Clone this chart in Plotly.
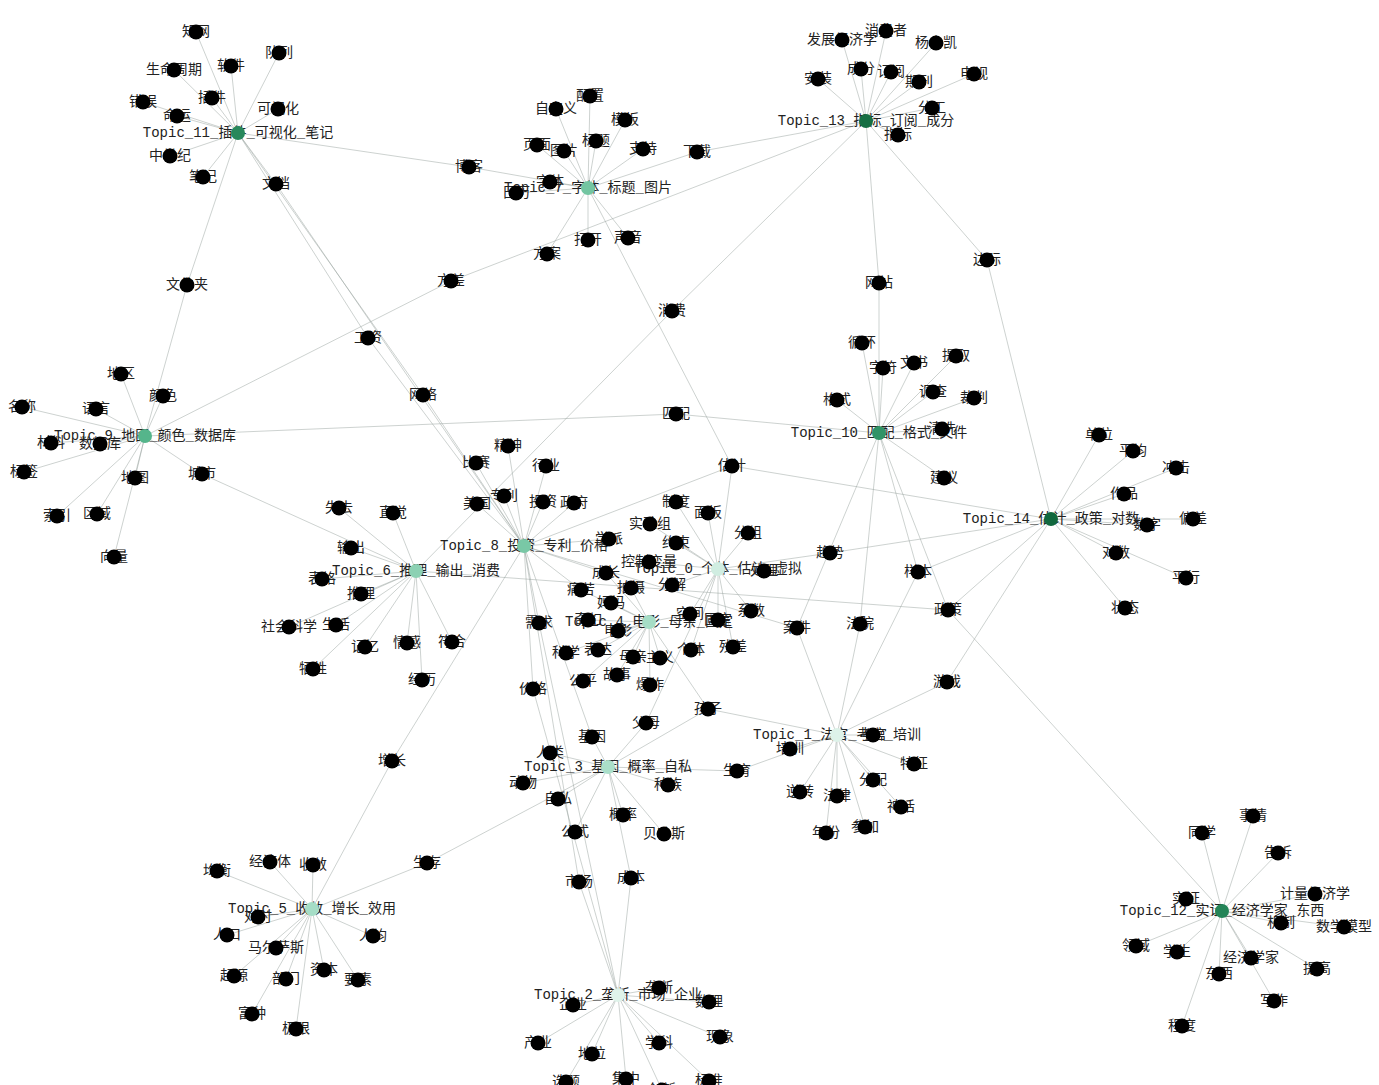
import plotly.graph_objects as go

# ---------------- data ----------------
topic_names = [
    "Topic_0_个体_估计_虚拟", "Topic_1_法官_考官_培训", "Topic_2_垄断_市场_企业",
    "Topic_3_基因_概率_自私", "Topic_4_电影_母亲_固定", "Topic_5_收敛_增长_效用",
    "Topic_6_推理_输出_消费", "Topic_7_字体_标题_图片", "Topic_8_投资_专利_价格",
    "Topic_9_地图_颜色_数据库", "Topic_10_匹配_格式_文件", "Topic_11_插件_可视化_笔记",
    "Topic_12_实证_经济学家_东西", "Topic_13_指标_订阅_成分", "Topic_14_估计_政策_对数",
]
topic_x = [718, 837, 618, 608, 649, 312, 416, 588, 524, 145, 879, 238, 1222, 866, 1051]
topic_y = [569, 735, 995, 767, 622, 909, 571, 188, 546, 436, 433, 133, 911, 121, 519]
topic_weight = [0.14, 0.07, 0.06, 0.34, 0.36, 0.36, 0.44, 0.52, 0.50, 0.62, 0.78, 0.84, 0.86, 0.97, 1.0]

word_names = [
    # Topic_11
    "知网", "队列", "软件", "生命周期", "插件", "错误", "可视化", "命运", "中世纪", "笔记",
    "文档", "文件夹", "博客", "网络", "工资",
    # Topic_7
    "配置", "自定义", "模板", "页面", "图片", "标题", "支持", "下载", "字体", "日历",
    "打开", "声音", "方案", "估计", "方差",
    # Topic_13
    "发展经济学", "消费者", "杨小凯", "成分", "订阅", "期刊", "电视", "安装", "分工", "指标",
    "网站", "边际", "消费",
    # Topic_9
    "地区", "颜色", "名称", "语言", "材料", "数据库", "标签", "地图", "索引", "区域", "向量",
    "城市", "匹配",
    # Topic_10
    "循环", "字符", "文书", "提取", "格式", "调查", "裁判", "清洗", "建议",
    "法院", "样本", "案件", "政策",
    # Topic_14
    "单位", "平均", "冲击", "作品", "数字", "偏差", "对数", "平行", "状态", "趋势", "游戏",
    # Topic_8
    "精神", "比赛", "行业", "专利", "美国", "投资", "政府", "学派", "价格", "需求", "增长",
    "基因", "市场",
    # Topic_0
    "制度", "面板", "实验组", "分组", "约束", "控制变量", "处理", "分解", "固定", "系数",
    "个体", "残差", "空间", "父母",
    # Topic_4
    "成长", "痛苦", "拍摄", "妈妈", "奇幻", "电影", "科学", "表达", "母亲", "主义",
    "公平", "故事", "爆炸", "孩子",
    # Topic_6
    "失去", "直觉", "输出", "表格", "推理", "社会科学", "生活", "记忆", "情感", "符合",
    "牺牲", "经历",
    # Topic_1
    "培训", "考官", "特征", "分配", "逆转", "法律", "神话", "年份", "参加", "生育",
    # Topic_3
    "人类", "动物", "种族", "自私", "概率", "贝叶斯", "公式", "成本", "生存",
    # Topic_5
    "经济体", "收敛", "均衡", "对时", "人口", "人均", "马尔萨斯", "起源", "部门", "资本",
    "要素", "富种", "极限",
    # Topic_2
    "垄断", "企业", "数理", "产业", "地位", "学科", "现象", "选题", "集中", "创新", "标准",
    # Topic_12
    "事情", "同学", "告诉", "计量经济学", "实证", "机制", "数学模型", "领域", "学生",
    "经济学家", "东西", "提高", "写作", "程度",
]
word_x = [
    196, 279, 231, 174, 212, 143, 278, 177, 170, 203, 276, 187, 469, 423, 368,
    590, 556, 625, 537, 564, 596, 643, 697, 550, 516, 588, 628, 547, 732, 451,
    842, 886, 936, 861, 891, 919, 974, 818, 932, 898, 879, 987, 672,
    121, 163, 22, 96, 51, 100, 24, 135, 57, 97, 114, 202, 676,
    862, 883, 914, 956, 837, 933, 974, 942, 944, 860, 918, 797, 948,
    1099, 1133, 1176, 1124, 1147, 1193, 1116, 1186, 1125, 830, 947,
    508, 476, 546, 504, 477, 543, 574, 609, 533, 539, 392, 592, 579,
    676, 708, 650, 748, 676, 649, 764, 672, 718, 751, 691, 733, 690, 646,
    606, 581, 631, 611, 588, 618, 566, 598, 633, 660, 583, 617, 650, 708,
    339, 393, 351, 322, 361, 289, 336, 365, 407, 452, 313, 422,
    790, 873, 914, 873, 800, 837, 901, 826, 865, 737,
    550, 523, 668, 558, 623, 664, 575, 631, 427,
    270, 313, 217, 258, 227, 373, 276, 234, 286, 324, 358, 252, 296,
    659, 573, 709, 538, 592, 659, 720, 566, 626, 662, 709,
    1253, 1202, 1278, 1315, 1186, 1281, 1344, 1136, 1177, 1251, 1219, 1317, 1274, 1182,
]
word_y = [
    32, 53, 66, 70, 98, 102, 109, 116, 156, 177, 184, 285, 167, 395, 338,
    96, 109, 120, 145, 151, 141, 149, 152, 182, 193, 240, 238, 254, 466, 281,
    40, 31, 43, 69, 72, 82, 74, 79, 108, 135, 283, 260, 311,
    374, 396, 407, 409, 443, 444, 472, 478, 516, 514, 557, 474, 414,
    343, 368, 363, 356, 400, 392, 398, 429, 478, 624, 572, 628, 610,
    435, 451, 468, 494, 525, 519, 553, 578, 608, 553, 682,
    446, 463, 466, 496, 504, 502, 503, 539, 689, 623, 761, 737, 882,
    502, 513, 524, 533, 543, 562, 571, 585, 620, 611, 650, 647, 614, 723,
    573, 590, 588, 603, 620, 631, 653, 650, 657, 658, 681, 675, 685, 709,
    508, 513, 548, 579, 594, 627, 625, 647, 643, 642, 669, 680,
    749, 735, 764, 780, 792, 796, 807, 833, 827, 771,
    753, 783, 785, 799, 815, 834, 832, 878, 863,
    862, 865, 871, 917, 935, 936, 948, 976, 979, 970, 980, 1014, 1029,
    988, 1005, 1002, 1043, 1054, 1043, 1037, 1082, 1079, 1090, 1081,
    816, 833, 853, 894, 899, 923, 927, 946, 952, 958, 974, 969, 1001, 1026,
]
# topics each word is linked to (indices into topic_names)
word_links = [
    [11], [11], [11], [11], [11], [11], [11], [11], [11], [11], [11, 8], [11, 9], [11, 7], [11, 8], [11, 8],
    [7], [7], [7], [7], [7], [7], [7], [7, 13], [7], [7], [7], [7], [7], [7, 0, 8, 14], [9, 13],
    [13], [13], [13], [13], [13], [13], [13], [13], [13], [13], [13, 10], [13, 14], [13, 6],
    [9], [9], [9], [9], [9], [9], [9], [9], [9], [9], [9], [9, 6], [9, 10],
    [10], [10], [10], [10], [10], [10], [10], [10], [10], [10, 1], [10, 14, 1], [10, 8, 1], [10, 14, 6, 12],
    [14], [14], [14], [14], [14], [14], [14], [14], [14], [14, 0], [14, 1],
    [8], [8], [8], [8], [8], [8], [8], [8], [8, 2], [8, 2], [8, 5], [8, 3], [8, 2],
    [0], [0], [0], [0], [0], [0], [0], [0], [0], [0], [0], [0], [0, 4], [3, 0],
    [4, 8], [4, 8], [4], [4], [4], [4], [4], [4], [4], [4], [4], [4], [4], [4, 3, 1],
    [6], [6], [6], [6], [6], [6], [6], [6], [6], [6], [6], [6],
    [1], [1], [1], [1], [1], [1], [1], [1], [1], [1, 3],
    [3], [3], [3], [3], [3], [3], [3], [3, 2], [3, 5],
    [5], [5], [5], [5], [5], [5], [5], [5], [5], [5], [5], [5], [5],
    [2], [2], [2], [2], [2], [2], [2], [2], [2], [2], [2],
    [12], [12], [12], [12], [12], [12], [12], [12], [12], [12], [12], [12], [12], [12],
]

# ---------------- figure ----------------
edge_x, edge_y = [], []
for wx, wy, links in zip(word_x, word_y, word_links):
    for t in links:
        edge_x += [wx, topic_x[t], None]
        edge_y += [wy, topic_y[t], None]

FONT = "Liberation Mono, Noto Sans CJK SC, sans-serif"

fig = go.Figure()
fig.add_trace(go.Scatter(
    x=edge_x, y=edge_y, mode="lines",
    line=dict(color="rgba(150,160,155,0.6)", width=0.8),
    hoverinfo="skip",
))
fig.add_trace(go.Scatter(
    x=word_x + topic_x, y=word_y + topic_y, mode="text",
    text=word_names + topic_names, textposition="middle center",
    textfont=dict(family=FONT, size=14, color="#222222"),
    hoverinfo="skip",
))
fig.add_trace(go.Scatter(
    x=word_x, y=word_y, mode="markers",
    marker=dict(size=15, color="black"),
    text=word_names, hoverinfo="text",
))
fig.add_trace(go.Scatter(
    x=topic_x, y=topic_y, mode="markers",
    marker=dict(
        size=14, color=topic_weight, cmin=0, cmax=1,
        colorscale=[[0, "#eaf7f1"], [0.35, "#a8dec8"], [0.6, "#5ab98f"],
                    [0.8, "#2c9062"], [1, "#11683e"]],
    ),
    text=topic_names, hoverinfo="text",
))

fig.update_layout(
    width=1379, height=1085,
    margin=dict(l=0, r=0, t=0, b=0),
    paper_bgcolor="white", plot_bgcolor="white",
    showlegend=False,
    xaxis=dict(range=[0, 1379], visible=False, fixedrange=True),
    yaxis=dict(range=[1085, 0], visible=False, fixedrange=True),
)

fig.write_html(
    "out.html",
    config={"displayModeBar": False},
    post_script="document.body.style.margin='0';document.body.style.overflow='hidden';",
)
